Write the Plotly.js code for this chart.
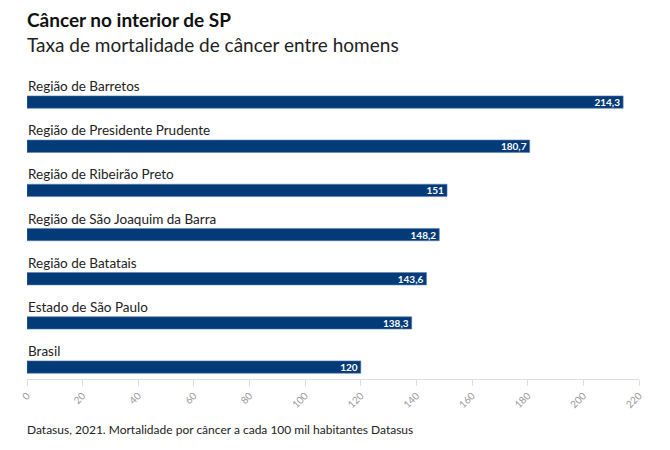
<!DOCTYPE html>
<html>
<head>
<meta charset="utf-8">
<script src="https://cdn.plot.ly/plotly-3.0.1.min.js"></script>
<style>html,body{margin:0;padding:0;background:#fff;}#chart{width:670px;height:450px;}</style>
</head>
<body>
<div id="chart"></div>
<script>
const categories = ["Brasil", "Estado de São Paulo", "Região de Batatais", "Região de São Joaquim da Barra", "Região de Ribeirão Preto", "Região de Presidente Prudente", "Região de Barretos"];
const values = [120, 138.3, 143.6, 148.2, 151, 180.7, 214.3];
const tickValues = [0, 20, 40, 60, 80, 100, 120, 140, 160, 180, 200, 220];

const FONT = "Lato, 'Source Sans Pro', 'Noto Sans', sans-serif";

const trace = {
  type: "bar",
  orientation: "h",
  x: values,
  y: categories,
  width: 0.28,
  marker: {color: "#023b78", line: {color: "#5a7fae", width: 0.6}},
  text: values,
  texttemplate: "%{x}",
  textposition: "inside",
  insidetextanchor: "end",
  textangle: 0,
  constraintext: "none",
  insidetextfont: {family: FONT, size: 10, color: "#ffffff", weight: "bold"},
  hoverinfo: "none",
  cliponaxis: false
};

const annotations = categories.map(c => ({
  xref: "paper", x: 0, y: c, yref: "y",
  text: c, showarrow: false, xanchor: "left", yanchor: "bottom",
  yshift: 6, xshift: -1,
  font: {family: FONT, size: 13.5, color: "#222"}
}));

annotations.push({
  xref: "paper", yref: "paper", x: 0, y: 1, yshift: 47, xshift: -2,
  xanchor: "left", yanchor: "bottom", showarrow: false,
  text: "<b>Câncer no interior de SP</b>",
  font: {family: FONT, size: 19, color: "#111"}
});
annotations.push({
  xref: "paper", yref: "paper", x: 0, y: 1, yshift: 22, xshift: -2,
  xanchor: "left", yanchor: "bottom", showarrow: false,
  text: "Taxa de mortalidade de câncer entre homens",
  font: {family: FONT, size: 19, color: "#222"}
});
annotations.push({
  xref: "paper", yref: "paper", x: 0, y: 0, yshift: -60, xshift: -2,
  xanchor: "left", yanchor: "bottom", showarrow: false,
  text: "Datasus, 2021. Mortalidade por câncer a cada 100 mil habitantes Datasus",
  font: {family: FONT, size: 12, color: "#222"}
});

const layout = {
  width: 670, height: 450,
  margin: {l: 27, r: 31, t: 80, b: 71},
  paper_bgcolor: "#fff", plot_bgcolor: "#fff",
  separators: ",.",
  showlegend: false,
  font: {family: FONT},
  xaxis: {
    range: [0, 220],
    tickvals: tickValues,
    ticktext: tickValues.map(String),
    tickangle: -45,
    showgrid: false, zeroline: false,
    showline: true, linecolor: "#dddddd", linewidth: 1,
    ticks: "outside", ticklen: 6, tickcolor: "#dddddd",
    tickfont: {family: FONT, size: 10, color: "#999"},
    fixedrange: true
  },
  yaxis: {
    range: [-0.27, 6.5],
    showticklabels: false, showgrid: false, zeroline: false,
    showline: false, ticks: "", fixedrange: true
  },
  annotations: annotations
};

Plotly.newPlot("chart", [trace], layout, {displayModeBar: false, staticPlot: true});
</script>
</body>
</html>
